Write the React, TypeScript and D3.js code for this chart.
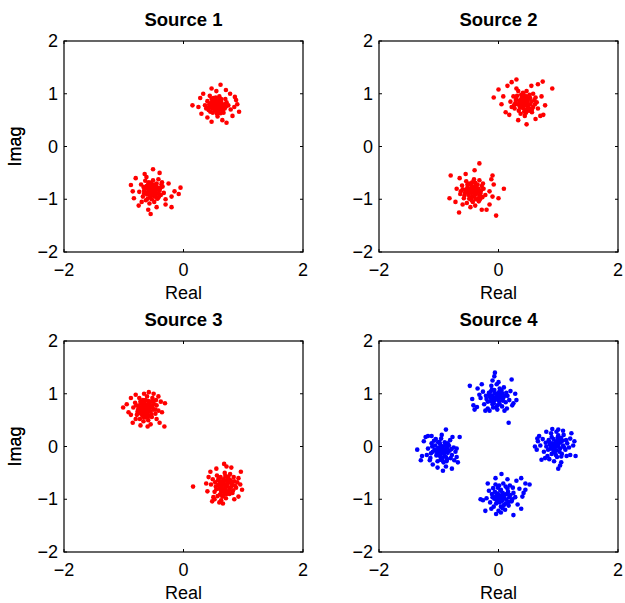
import { scaleLinear } from "d3";

type Pt = [number, number];

// Source 1
const s1a: Pt[] = [
  [0.55,0.78],[0.50,0.80],[0.60,0.75],[0.57,0.85],[0.48,0.72],[0.62,0.82],[0.53,0.70],[0.45,0.82],[0.66,0.77],[0.58,0.68],
  [0.51,0.88],[0.63,0.90],[0.44,0.75],[0.69,0.72],[0.56,0.62],[0.40,0.86],[0.72,0.84],[0.49,0.64],[0.60,0.95],[0.42,0.69],
  [0.67,0.64],[0.54,0.93],[0.36,0.78],[0.75,0.78],[0.47,0.90],[0.64,0.70],[0.52,0.76],[0.59,0.80],[0.46,0.79],[0.61,0.86],
  [0.55,0.73],[0.70,0.90],[0.38,0.72],[0.57,0.57],[0.79,0.70],[0.44,0.96],
  [0.53,0.81],[0.58,0.77],[0.50,0.76],[0.61,0.79],[0.56,0.83],[0.48,0.84],[0.65,0.74],[0.52,0.69],[0.59,0.72],[0.47,0.77],
  [0.63,0.85],[0.54,0.88],[0.68,0.80],[0.43,0.79],[0.57,0.65],[0.50,0.92],[0.66,0.68],[0.41,0.73],[0.71,0.76],[0.60,0.91],
  [0.45,0.66],[0.62,0.63],[0.49,0.85],[0.55,0.84],[0.58,0.74],
  [0.15,0.78],[0.93,0.66],[0.62,1.17],[0.47,1.10],[0.71,1.07],[0.72,0.45],[0.47,0.47],[0.86,0.94],[0.90,0.80],[0.28,0.92],
  [0.30,0.62],[0.82,0.58],[0.33,1.00],[0.78,1.00],[0.40,0.55],[0.65,0.50],[0.25,0.75],[0.85,0.75],[0.55,1.05],[0.88,0.88],
];
const s1b: Pt[] = [
  [-0.52,-0.82],[-0.57,-0.79],[-0.47,-0.85],[-0.50,-0.74],[-0.60,-0.88],[-0.44,-0.78],[-0.55,-0.92],[-0.62,-0.75],[-0.48,-0.95],[-0.40,-0.84],
  [-0.58,-0.68],[-0.66,-0.84],[-0.45,-0.70],[-0.53,-1.00],[-0.38,-0.92],[-0.68,-0.95],[-0.42,-0.62],[-0.63,-1.02],[-0.35,-0.76],[-0.71,-0.72],
  [-0.50,-0.88],[-0.56,-0.84],[-0.46,-0.80],[-0.54,-0.76],[-0.60,-0.80],[-0.49,-1.05],[-0.33,-0.88],[-0.74,-0.86],[-0.43,-0.98],[-0.64,-0.65],
  [-0.51,-0.64],[-0.36,-0.68],[-0.57,-1.08],[-0.70,-1.05],
  [-0.50,-0.79],[-0.55,-0.86],[-0.48,-0.88],[-0.58,-0.83],[-0.53,-0.77],[-0.45,-0.82],[-0.61,-0.91],[-0.49,-0.72],[-0.56,-0.96],[-0.42,-0.89],
  [-0.63,-0.79],[-0.51,-0.93],[-0.46,-0.75],[-0.59,-0.71],[-0.39,-0.79],[-0.66,-0.89],[-0.54,-0.69],[-0.44,-0.99],[-0.60,-0.99],[-0.37,-0.72],
  [-0.67,-0.77],[-0.52,-0.87],[-0.47,-0.91],[-0.57,-0.74],[-0.41,-0.95],
  [-0.88,-0.73],[-0.83,-0.98],[-0.51,-0.43],[-0.55,-1.28],[-0.59,-1.20],[-0.30,-1.10],[-0.20,-1.15],[-0.05,-0.78],[-0.08,-0.90],[-0.15,-0.85],
  [-0.25,-0.70],[-0.80,-0.60],[-0.75,-1.12],[-0.40,-0.50],[-0.65,-0.52],[-0.20,-0.95],[-0.85,-0.85],[-0.30,-1.00],[-0.45,-1.15],[-0.62,-0.58],
];

// Source 2
const s2a: Pt[] = [
  [0.42,0.85],[0.37,0.88],[0.47,0.82],[0.44,0.93],[0.35,0.78],[0.50,0.90],[0.40,0.76],[0.30,0.90],[0.53,0.80],[0.46,0.70],
  [0.38,0.98],[0.52,0.98],[0.28,0.82],[0.58,0.75],[0.43,0.66],[0.25,0.95],[0.60,0.88],[0.34,0.68],[0.47,1.05],[0.27,0.72],
  [0.56,0.65],[0.41,1.02],[0.20,0.85],[0.64,0.84],[0.33,1.05],[0.52,0.72],[0.40,0.84],[0.45,0.87],[0.36,0.83],[0.49,0.76],
  [0.58,1.00],[0.22,0.75],[0.44,0.58],[0.66,0.72],[0.30,1.10],
  [0.40,0.88],[0.45,0.80],[0.38,0.82],[0.48,0.86],[0.43,0.91],[0.35,0.86],[0.50,0.78],[0.41,0.73],[0.47,0.95],[0.32,0.80],
  [0.55,0.85],[0.39,0.93],[0.53,0.92],[0.29,0.88],[0.46,0.64],[0.56,0.70],[0.36,0.74],[0.61,0.80],[0.42,0.99],[0.31,0.96],
  [0.51,0.68],[0.26,0.78],[0.62,0.93],[0.37,0.62],[0.44,0.78],
  [-0.08,0.93],[0.90,1.10],[0.74,1.23],[0.66,1.18],[0.30,1.27],[0.22,1.22],[0.47,0.42],[0.33,0.50],[0.75,0.60],[0.70,0.58],
  [0.00,1.08],[0.05,0.80],[0.08,0.95],[0.12,0.65],[0.15,1.15],[0.62,0.52],[0.72,0.95],[0.55,1.15],[0.18,0.60],[0.78,0.78],
];
const s2b: Pt[] = [
  [-0.42,-0.85],[-0.47,-0.82],[-0.37,-0.88],[-0.40,-0.76],[-0.50,-0.92],[-0.34,-0.80],[-0.45,-0.96],[-0.52,-0.78],[-0.38,-1.00],[-0.30,-0.88],
  [-0.48,-0.70],[-0.56,-0.88],[-0.35,-0.72],[-0.43,-1.05],[-0.27,-0.96],[-0.58,-0.98],[-0.32,-0.64],[-0.53,-1.07],[-0.25,-0.80],[-0.61,-0.74],
  [-0.40,-0.90],[-0.46,-0.86],[-0.36,-0.84],[-0.44,-0.78],[-0.50,-0.84],[-0.39,-1.12],[-0.22,-0.92],[-0.64,-0.90],[-0.33,-1.04],[-0.54,-0.66],
  [-0.41,-0.62],[-0.26,-0.70],[-0.47,-1.15],[-0.60,-1.10],
  [-0.40,-0.82],[-0.45,-0.88],[-0.38,-0.91],[-0.48,-0.80],[-0.43,-0.78],[-0.35,-0.85],[-0.51,-0.87],[-0.41,-0.95],[-0.46,-0.73],[-0.32,-0.92],
  [-0.55,-0.82],[-0.37,-0.76],[-0.49,-0.99],[-0.29,-0.83],[-0.44,-0.68],[-0.57,-0.93],[-0.34,-0.98],[-0.60,-0.81],[-0.39,-0.69],[-0.28,-0.75],
  [-0.52,-0.72],[-0.45,-1.02],[-0.31,-1.00],[-0.63,-0.85],[-0.42,-0.80],
  [-0.82,-0.98],[-0.80,-0.55],[-0.66,-1.25],[-0.32,-0.32],[-0.40,-0.45],[0.09,-0.80],[0.00,-0.98],[-0.04,-1.31],[-0.10,-0.55],[-0.12,-0.62],
  [-0.08,-0.72],[-0.15,-1.10],[-0.20,-1.20],[-0.70,-0.80],[-0.72,-1.05],[-0.55,-0.52],[-0.15,-0.85],[-0.28,-1.20],[-0.10,-0.95],[-0.65,-0.60],
];

// Source 3
const s3a: Pt[] = [
  [-0.62,0.72],[-0.67,0.75],[-0.57,0.69],[-0.60,0.79],[-0.70,0.65],[-0.54,0.77],[-0.65,0.62],[-0.72,0.81],[-0.58,0.58],[-0.50,0.70],
  [-0.68,0.88],[-0.76,0.70],[-0.55,0.85],[-0.63,0.55],[-0.47,0.62],[-0.78,0.60],[-0.52,0.92],[-0.73,0.52],[-0.45,0.78],[-0.81,0.83],
  [-0.60,0.68],[-0.66,0.72],[-0.56,0.74],[-0.64,0.80],[-0.70,0.74],[-0.59,0.50],[-0.42,0.68],[-0.84,0.74],[-0.53,0.56],[-0.74,0.92],
  [-0.61,0.95],[-0.46,0.88],[-0.67,0.48],[-0.80,0.52],
  [-0.60,0.75],[-0.65,0.68],[-0.58,0.72],[-0.68,0.78],[-0.63,0.76],[-0.55,0.66],[-0.71,0.70],[-0.61,0.64],[-0.66,0.84],[-0.52,0.74],
  [-0.75,0.76],[-0.57,0.81],[-0.69,0.59],[-0.49,0.80],[-0.64,0.88],[-0.77,0.66],[-0.54,0.61],[-0.72,0.86],[-0.59,0.86],[-0.47,0.70],
  [-0.79,0.78],[-0.62,0.59],[-0.67,0.56],[-0.51,0.85],[-0.74,0.63],
  [-1.01,0.74],[-0.31,0.82],[-0.32,0.38],[-0.58,1.03],[-0.66,1.00],[-0.80,0.98],[-0.88,0.92],[-0.85,0.45],[-0.60,0.38],[-0.40,0.45],
  [-0.38,0.85],[-0.36,0.65],[-0.92,0.65],[-0.72,0.40],[-0.50,1.00],[-0.45,0.52],[-0.95,0.80],[-0.42,0.95],[-0.55,0.42],[-0.88,0.60],
];
const s3b: Pt[] = [
  [0.68,-0.72],[0.63,-0.69],[0.73,-0.75],[0.70,-0.65],[0.60,-0.80],[0.76,-0.68],[0.65,-0.82],[0.58,-0.64],[0.72,-0.86],[0.80,-0.76],
  [0.62,-0.58],[0.54,-0.76],[0.75,-0.60],[0.67,-0.92],[0.83,-0.83],[0.52,-0.86],[0.78,-0.52],[0.57,-0.94],[0.85,-0.66],[0.49,-0.62],
  [0.70,-0.78],[0.64,-0.74],[0.74,-0.70],[0.66,-0.66],[0.60,-0.72],[0.71,-0.98],[0.88,-0.78],[0.46,-0.72],[0.77,-0.90],[0.56,-0.55],
  [0.69,-0.50],[0.84,-0.58],[0.63,-1.02],[0.50,-0.96],
  [0.66,-0.70],[0.71,-0.73],[0.64,-0.77],[0.74,-0.67],[0.69,-0.81],[0.61,-0.66],[0.77,-0.79],[0.67,-0.62],[0.72,-0.90],[0.58,-0.73],
  [0.81,-0.71],[0.63,-0.86],[0.75,-0.57],[0.55,-0.81],[0.70,-0.56],[0.82,-0.88],[0.59,-0.60],[0.79,-0.64],[0.65,-0.95],[0.53,-0.68],
  [0.86,-0.74],[0.68,-0.85],[0.61,-0.91],[0.76,-0.84],[0.73,-0.63],
  [0.16,-0.76],[0.96,-0.48],[0.98,-0.82],[0.92,-0.95],[0.68,-0.33],[0.72,-0.38],[0.66,-1.08],[0.52,-1.00],[0.40,-0.85],[0.42,-0.58],
  [0.45,-0.48],[0.90,-0.68],[0.55,-0.42],[0.85,-1.00],[0.60,-1.06],[0.95,-0.72],[0.38,-0.70],[0.80,-0.40],[0.48,-1.04],[0.92,-0.60],
];

// Source 4
const s4top: Pt[] = [
  [-0.05,0.93],[-0.10,0.96],[0.00,0.90],[-0.03,1.00],[-0.13,0.86],[0.04,0.98],[-0.08,0.82],[-0.16,1.02],[0.02,0.80],[0.08,0.92],
  [-0.11,1.08],[-0.20,0.90],[0.05,1.06],[-0.04,0.74],[0.12,0.84],[-0.24,0.80],[0.09,1.12],[-0.18,0.72],[0.15,0.96],[-0.26,1.04],
  [-0.06,0.88],[-0.01,0.94],[-0.09,0.90],[0.01,1.03],[-0.14,0.94],[-0.02,0.70],[0.18,0.88],[-0.30,0.92],[0.06,0.76],[-0.12,1.15],
  [-0.03,1.18],[0.20,1.05],[-0.22,0.68],[0.14,0.72],
  [-0.03,0.95],[-0.08,0.88],[0.01,0.86],[-0.06,1.01],[-0.12,0.92],[0.03,0.93],[-0.01,0.99],[-0.10,0.80],[0.07,0.87],[-0.15,0.98],
  [0.06,1.01],[-0.07,1.07],[-0.18,0.85],[0.10,0.96],[-0.02,0.78],[0.13,1.02],[-0.21,0.96],[-0.09,0.74],[0.02,1.10],[-0.13,1.04],
  [-0.48,1.15],[-0.44,0.90],[-0.42,0.78],[-0.40,0.70],[-0.35,1.10],[-0.32,0.98],[-0.10,1.25],[-0.07,1.33],[-0.06,1.40],[0.22,1.27],
  [0.30,0.88],[0.25,0.82],[0.17,0.45],[0.28,1.00],[0.10,0.68],[-0.15,0.68],[0.00,1.22],[-0.36,0.75],[0.23,0.78],[-0.28,1.18],
];
const s4right: Pt[] = [
  [0.95,0.03],[0.90,0.06],[1.00,0.00],[0.97,0.10],[0.87,-0.04],[1.04,0.08],[0.92,-0.08],[0.84,0.12],[1.02,-0.10],[1.08,0.02],
  [0.89,0.18],[0.80,0.00],[1.05,0.16],[0.96,-0.16],[1.12,-0.06],[0.76,-0.10],[1.09,0.22],[0.82,-0.18],[1.15,0.06],[0.74,0.14],
  [0.94,-0.02],[0.99,0.04],[0.91,0.00],[1.01,0.13],[0.86,0.04],[0.98,-0.20],[1.18,-0.02],[0.70,0.02],[1.06,-0.14],[0.88,0.25],
  [0.97,0.28],[1.20,0.15],[0.78,-0.22],[1.14,-0.18],
  [0.93,0.05],[0.98,0.01],[0.91,-0.03],[1.01,0.06],[0.96,0.09],[0.88,0.01],[1.03,-0.04],[0.94,-0.11],[0.85,0.09],[1.07,0.11],
  [0.99,0.17],[0.83,-0.06],[1.10,-0.02],[0.92,0.14],[0.97,-0.07],[1.13,0.12],[0.79,0.07],[1.05,-0.19],[0.89,-0.14],[1.00,0.21],
  [0.61,0.00],[0.64,-0.06],[0.66,0.10],[0.68,0.20],[0.72,-0.25],[0.90,0.33],[1.00,0.32],[1.08,0.30],[1.22,0.25],[1.27,0.10],
  [1.29,-0.18],[1.20,-0.16],[1.05,-0.30],[1.00,-0.42],[1.03,-0.36],[0.85,-0.24],[1.25,0.02],[0.80,0.28],[0.93,-0.28],[0.65,0.15],
];
const s4bottom: Pt[] = [
  [0.05,-0.95],[0.00,-0.92],[0.10,-0.98],[0.07,-0.88],[-0.03,-1.02],[0.14,-0.90],[0.02,-1.06],[-0.06,-0.86],[0.12,-1.08],[0.18,-0.96],
  [-0.01,-0.78],[-0.10,-0.96],[0.15,-0.80],[0.04,-1.14],[0.22,-1.04],[-0.14,-1.06],[0.19,-0.74],[-0.08,-1.14],[0.25,-0.88],[-0.16,-0.84],
  [0.06,-0.99],[0.01,-0.95],[0.09,-0.92],[0.03,-0.84],[-0.04,-0.94],[0.11,-1.20],[0.28,-0.96],[-0.20,-0.98],[0.17,-1.12],[-0.05,-0.72],
  [0.08,-0.70],[0.24,-0.78],[0.00,-1.22],[-0.12,-1.18],
  [0.03,-0.93],[0.08,-0.96],[0.00,-0.99],[0.11,-0.91],[0.06,-1.03],[-0.02,-0.89],[0.13,-1.01],[0.04,-0.82],[-0.07,-0.99],[0.16,-0.86],
  [0.09,-1.11],[-0.04,-1.08],[0.20,-0.92],[-0.11,-0.90],[0.01,-0.74],[0.23,-1.00],[0.12,-0.76],[-0.09,-0.79],[0.07,-1.17],[0.17,-1.05],
  [-0.30,-1.00],[-0.26,-1.02],[-0.22,-1.22],[-0.04,-1.28],[0.04,-1.25],[0.25,-1.30],[0.32,-1.10],[0.38,-1.18],[0.40,-0.95],[0.45,-0.82],
  [0.42,-0.88],[0.52,-0.72],[0.45,-0.70],[0.38,-0.60],[0.30,-0.65],[0.05,-0.52],[-0.05,-0.60],[0.15,-0.62],[-0.18,-0.70],[0.35,-0.80],
];
const s4left: Pt[] = [
  [-0.95,-0.08],[-1.00,-0.05],[-0.90,-0.11],[-0.93,0.00],[-1.03,-0.14],[-0.86,-0.02],[-0.98,-0.18],[-1.06,0.02],[-0.88,-0.20],[-0.82,-0.08],
  [-1.01,0.08],[-1.10,-0.10],[-0.85,0.06],[-0.94,-0.26],[-0.78,-0.16],[-1.14,-0.22],[-0.81,0.12],[-1.12,0.06],[-0.75,-0.02],[-1.18,-0.04],
  [-0.96,-0.12],[-0.91,-0.06],[-0.99,-0.02],[-0.89,0.03],[-1.04,-0.08],[-0.92,-0.30],[-0.72,-0.10],[-1.20,-0.16],[-0.87,-0.28],[-1.05,0.14],
  [-0.96,0.15],[-0.80,-0.22],[-1.15,-0.26],[-0.98,0.05],
  [-0.93,-0.06],[-0.98,-0.10],[-0.91,-0.14],[-1.01,-0.03],[-0.96,0.01],[-0.88,-0.07],[-1.04,-0.17],[-0.94,-0.21],[-0.85,-0.12],[-1.07,-0.06],
  [-0.99,0.09],[-0.83,0.02],[-1.11,0.00],[-0.90,0.08],[-0.97,-0.25],[-1.13,-0.13],[-0.79,-0.05],[-1.08,0.11],[-0.86,-0.24],[-1.02,-0.28],
  [-1.36,-0.06],[-1.30,-0.26],[-1.25,0.10],[-1.22,0.18],[-1.18,0.20],[-1.12,0.20],[-1.02,-0.40],[-0.93,-0.46],[-0.88,-0.38],[-0.78,-0.42],
  [-0.74,-0.26],[-0.70,-0.20],[-0.65,0.18],[-0.70,-0.04],[-0.88,0.32],[-0.95,0.22],[-1.10,-0.34],[-0.77,0.18],[-1.28,-0.18],[-0.68,-0.30],
];

const titles = ["Source 1", "Source 2", "Source 3", "Source 4"];
const panelPoints: Pt[][] = [
  [...s1a, ...s1b],
  [...s2a, ...s2b],
  [...s3a, ...s3b],
  [...s4top, ...s4right, ...s4bottom, ...s4left],
];
const panelColors = ["#ff0000", "#ff0000", "#ff0000", "#0000ff"];
const xTicks = [-2, 0, 2];
const yTicks = [-2, -1, 0, 1, 2];

const W = 625;
const H = 603;
const colLeft = [64, 379];
const rowTop = [41, 341];
const PW = 239;
const PH = 211;
const FONT = "'Liberation Sans', Arial, Helvetica, sans-serif";

const fmt = (v: number) => (v < 0 ? "\u2212" + Math.abs(v) : String(v));

function Panel({ i }: { i: number }) {
  const left = colLeft[i % 2];
  const top = rowTop[Math.floor(i / 2)];
  const x = scaleLinear().domain([-2, 2]).range([0, PW]);
  const y = scaleLinear().domain([-2, 2]).range([PH, 0]);
  const tl = 3;
  return (
    <g transform={`translate(${left},${top})`} fontFamily={FONT}>
      <text x={PW / 2} y={-15} fontSize={18.5} fontWeight="bold" textAnchor="middle" fill="#000">
        {titles[i]}
      </text>
      {panelPoints[i].map((p, k) => (
        <circle key={k} cx={x(p[0])} cy={y(p[1])} r={2.3} fill={panelColors[i]} />
      ))}
      <rect x={0} y={0} width={PW} height={PH} fill="none" stroke="#000" strokeWidth={1.2} />
      {xTicks.map((t) => (
        <g key={"x" + t}>
          <line x1={x(t)} x2={x(t)} y1={PH} y2={PH - tl} stroke="#000" />
          <line x1={x(t)} x2={x(t)} y1={0} y2={tl} stroke="#000" />
          <text x={x(t)} y={PH + 24} fontSize={18} textAnchor="middle" fill="#000">
            {fmt(t)}
          </text>
        </g>
      ))}
      {yTicks.map((t) => (
        <g key={"y" + t}>
          <line x1={0} x2={tl} y1={y(t)} y2={y(t)} stroke="#000" />
          <line x1={PW} x2={PW - tl} y1={y(t)} y2={y(t)} stroke="#000" />
          <text x={-6} y={y(t) + 6} fontSize={18} textAnchor="end" fill="#000">
            {fmt(t)}
          </text>
        </g>
      ))}
      <text x={PW / 2} y={PH + 47} fontSize={18} textAnchor="middle" fill="#000">
        Real
      </text>
      <text
        transform={`translate(${21 - left},${PH / 2}) rotate(-90)`}
        fontSize={18}
        textAnchor="middle"
        fill="#000"
      >
        Imag
      </text>
    </g>
  );
}

export default function App() {
  return (
    <div style={{ position: "absolute", left: 0, top: 0 }}>
      <svg width={W} height={H} viewBox={`0 0 ${W} ${H}`} style={{ display: "block", background: "#fff" }}>
        {[0, 1, 2, 3].map((i) => (
          <Panel key={i} i={i} />
        ))}
      </svg>
    </div>
  );
}
